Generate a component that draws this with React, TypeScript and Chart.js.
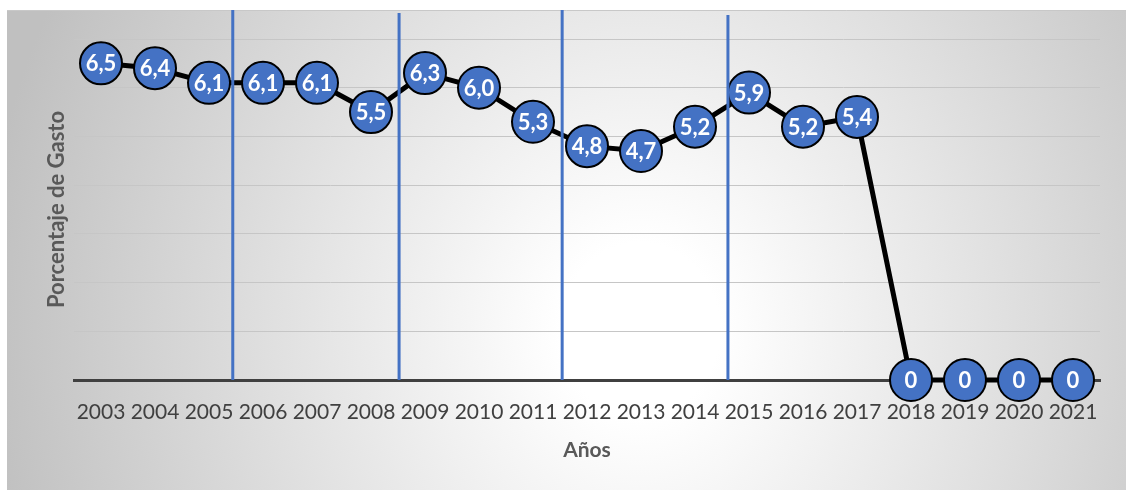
import React, { useEffect, useRef } from "react";
import { Chart, registerables } from "chart.js";

Chart.register(...registerables);

const years = ["2003","2004","2005","2006","2007","2008","2009","2010","2011","2012","2013","2014","2015","2016","2017","2018","2019","2020","2021"];
const gasto = [6.5, 6.4, 6.1, 6.1, 6.1, 5.5, 6.3, 6.0, 5.3, 4.8, 4.7, 5.2, 5.9, 5.2, 5.4, 0, 0, 0, 0];
const dividers = [2.44, 5.52, 8.54, 11.61];
const dividerTops = [10, 13, 10, 15];
const yTitle = "Porcentaje de Gasto";
const xTitle = "Años";

const FONT = "Lato, 'Open Sans', sans-serif";
const W = 1126;
const H = 491;

const fmt = (v: number) => (v === 0 ? "0" : v.toFixed(1).replace(".", ","));

const decorPlugin = {
  id: "decor",
  beforeDraw(chart: any) {
    const ctx = chart.ctx;
    ctx.save();
    ctx.fillStyle = "#ffffff";
    ctx.fillRect(0, 0, W, H);
    const bx = 7, by = 10, bw = W - 7, bh = 480;
    const cx = 640, cy = 330;
    ctx.beginPath();
    ctx.rect(bx, by, bw, bh);
    ctx.clip();
    ctx.translate(cx, cy);
    ctx.scale(1, 1.1);
    const g = ctx.createRadialGradient(0, 0, 0, 0, 0, 660);
    g.addColorStop(0, "#ffffff");
    g.addColorStop(0.12, "#ffffff");
    g.addColorStop(1, "#c0c0c0");
    ctx.fillStyle = g;
    ctx.fillRect(-cx, -cy / 1.1 - 50, W + 100, H + 100);
    ctx.restore();
    ctx.save();
    ctx.strokeStyle = "#c8c8c8";
    ctx.lineWidth = 1;
    ctx.beginPath();
    ctx.moveTo(bx, by + 0.5);
    ctx.lineTo(W, by + 0.5);
    ctx.stroke();
    ctx.restore();
  },
  afterDatasetsDraw(chart: any) {
    const ctx = chart.ctx;
    const xs = chart.scales.x;
    const ys = chart.scales.y;
    ctx.save();
    ctx.strokeStyle = "#4472C4";
    ctx.lineWidth = 3;
    dividers.forEach((d, i) => {
      const x = xs.getPixelForValue(d);
      ctx.beginPath();
      ctx.moveTo(x, dividerTops[i]);
      ctx.lineTo(x, ys.getPixelForValue(0));
      ctx.stroke();
    });
    const meta = chart.getDatasetMeta(0);
    ctx.fillStyle = "#ffffff";
    ctx.font = `bold 22px ${FONT}`;
    ctx.textAlign = "center";
    ctx.textBaseline = "alphabetic";
    meta.data.forEach((pt: any, i: number) => {
      ctx.fillText(fmt(gasto[i]), pt.x, pt.y + 8);
    });
    ctx.fillStyle = "#595959";
    ctx.font = `bold 21px ${FONT}`;
    ctx.fillText(xTitle, (chart.chartArea.left + chart.chartArea.right) / 2, 457);
    ctx.translate(64, (chart.chartArea.top + chart.chartArea.bottom) / 2);
    ctx.rotate(-Math.PI / 2);
    ctx.font = `bold 22px ${FONT}`;
    ctx.fillText(yTitle, 0, 0);
    ctx.restore();
  },
};

export default function App() {
  const ref = useRef<HTMLCanvasElement>(null);
  useEffect(() => {
    if (!ref.current) return;
    const chart = new Chart(ref.current, {
      type: "line",
      data: {
        labels: years,
        datasets: [
          {
            data: gasto,
            borderColor: "#000000",
            borderWidth: 5,
            pointRadius: 21,
            pointHoverRadius: 21,
            pointBackgroundColor: "#4472C4",
            pointBorderColor: "#000000",
            pointBorderWidth: 2,
            tension: 0,
            clip: false,
          } as any,
        ],
      },
      options: {
        responsive: false,
        animation: false,
        events: [],
        layout: { padding: { left: 74, top: 39, right: 26, bottom: 0 } },
        plugins: { legend: { display: false }, tooltip: { enabled: false } },
        scales: {
          x: {
            offset: true,
            grid: { display: false, drawTicks: false },
            border: { display: true, color: "#404040", width: 3 },
            ticks: {
              color: "#404040",
              font: { family: FONT, size: 21 },
              padding: 20,
              maxRotation: 0,
              autoSkip: false,
            },
            afterFit(scale: any) {
              scale.height = H - 380;
            },
          },
          y: {
            min: 0,
            max: 7,
            ticks: { display: false, stepSize: 1 },
            grid: { color: "#c6c6c6", lineWidth: 1, drawTicks: false },
            border: { display: false },
            afterFit(scale: any) {
              scale.width = 0;
            },
          },
        },
      },
      plugins: [decorPlugin],
    });
    return () => chart.destroy();
  }, []);
  return (
    <div style={{ position: "fixed", left: 0, top: 0, width: W, height: H }}>
      <canvas ref={ref} width={W} height={H} style={{ width: W, height: H, display: "block" }} />
    </div>
  );
}
